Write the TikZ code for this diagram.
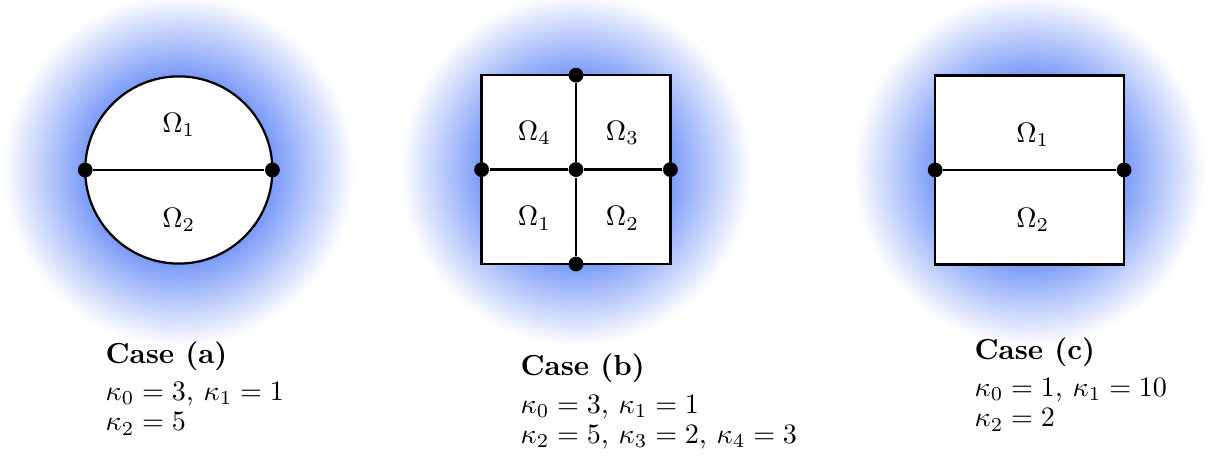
\documentclass[tikz,border=0pt]{standalone}
\usepackage{amsmath,amssymb}
\usepackage{xcolor}
\usepackage{tikz}
\usetikzlibrary{positioning,calc}
\definecolor{hazeblue}{HTML}{7B9BF7}
\pgfdeclareradialshading{haze}{\pgfpoint{0bp}{0bp}}{color(0bp)=(hazeblue); color(13.4bp)=(hazeblue); color(25bp)=(white); color(50bp)=(white)}

\begin{document}
\begin{tikzpicture}[x=1cm,y=1cm,
  junction/.style={circle,fill=black,inner sep=0pt,minimum size=1.85mm},
  wall/.style={thick,fill=white},
  region/.style={font=\fontsize{10.3}{12}\selectfont},
  caption/.style={anchor=north west,inner sep=0pt,align=left,font=\fontsize{10.3}{10.8}\selectfont}]
  \useasboundingbox (0,0) rectangle (15.1625,-5.7);
  % case (a): disc split in two
  \begin{scope}[shift={(2.235,-2.125)}]
    \shade[shading=haze] (0,0) circle (2.2);
    \draw[wall] (0,0) circle (1.17);
    \node[junction] (aW) at (180:1.17) {};
    \node[junction] (aE) at (0:1.17) {};
    \draw[thick] (aW) -- (aE);
    \node[region] (aO1) at (0,0.56) {$\Omega_1$};
    \node[region] (aO2) at (0,-0.62) {$\Omega_2$};
  \end{scope}
  \node[caption] (capA) at (1.3125,-4.26) {\textbf{Case (a)}\\[2.5pt]
    $\kappa_0=3$, $\kappa_1=1$\\ $\kappa_2=5$};
  % case (b): square in four
  \begin{scope}[shift={(7.2,-2.12)}]
    \shade[shading=haze] (0,0) circle (2.2);
    \draw[wall] (-1.18,-1.18) rectangle (1.18,1.18);
    \node[junction] (bN) at (0,1.18) {};
    \node[junction] (bS) at (0,-1.18) {};
    \node[junction] (bW) at (-1.18,0) {};
    \node[junction] (bE) at (1.18,0) {};
    \node[junction] (bC) at (0,0) {};
    \draw[thick] (bN) -- (bC) -- (bS);
    \draw[thick] (bW) -- (bC) -- (bE);
    \node[region] (bO4) at (-0.52,0.46) {$\Omega_4$};
    \node[region] (bO3) at (0.58,0.46) {$\Omega_3$};
    \node[region] (bO1) at (-0.52,-0.61) {$\Omega_1$};
    \node[region] (bO2) at (0.58,-0.61) {$\Omega_2$};
  \end{scope}
  \node[caption] (capB) at (6.5,-4.42) {\textbf{Case (b)}\\[2.5pt]
    $\kappa_0=3$, $\kappa_1=1$\\ $\kappa_2=5$, $\kappa_3=2$, $\kappa_4=3$};
  % case (c): square split in two
  \begin{scope}[shift={(12.87,-2.125)}]
    \shade[shading=haze] (0,0) circle (2.2);
    \draw[wall] (-1.18,-1.18) rectangle (1.18,1.18);
    \node[junction] (cW) at (-1.18,0) {};
    \node[junction] (cE) at (1.18,0) {};
    \draw[thick] (cW) -- (cE);
    \node[region] (cO1) at (0.04,0.44) {$\Omega_1$};
    \node[region] (cO2) at (0.04,-0.62) {$\Omega_2$};
  \end{scope}
  \node[caption] (capC) at (12.175,-4.21) {\textbf{Case (c)}\\[2.5pt]
    $\kappa_0=1$, $\kappa_1=10$\\ $\kappa_2=2$};
\end{tikzpicture}
\end{document}
